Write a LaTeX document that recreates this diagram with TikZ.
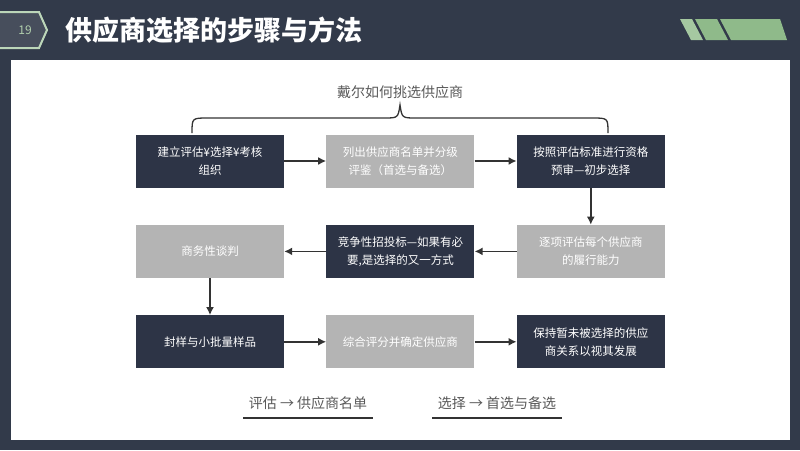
\documentclass[tikz,border=0pt]{standalone}
\usepackage{fontspec}
\setmainfont{Noto Sans CJK SC}
\usepackage{tikz}
\usetikzlibrary{positioning,arrows.meta,calc}

\definecolor{navy}{HTML}{323A4A}
\definecolor{boxdark}{HTML}{2D3446}
\definecolor{boxgrey}{HTML}{B4B4B4}
\definecolor{leaf}{HTML}{8FBA8A}
\definecolor{ink}{HTML}{333333}

\begin{document}
\begin{tikzpicture}[
  x=1pt, y=-1pt,
  node distance=37pt and 42pt,
  darkbox/.style={fill=boxdark, text=white, minimum width=148pt, minimum height=53pt, align=center, font=\fontsize{11.5}{18}\selectfont, inner sep=2pt},
  greybox/.style={darkbox, fill=boxgrey},
  arr/.style={-{Latex[length=8pt,width=8pt]}, line width=1.8pt, draw=ink},
  note/.style={font=\fontsize{14}{16}\selectfont, text=black!65}
]
\useasboundingbox (0,0) rectangle (800,450);
% slide background
\fill[navy] (0,0) rectangle (800,450);
\fill[white] (11,60) rectangle (790,440);

% header
\draw[leaf!60!white, line width=2pt, fill=navy!90!white] (-2,12) -- (39,12) -- (47,30) -- (39,48) -- (-2,48) -- cycle;
\node[text=leaf!70!white, font=\fontsize{12}{12}\selectfont] (num) at (25,30) {19};
\node[anchor=west, text=white, font=\fontsize{27}{27}\selectfont\bfseries] (title) at (62,30) {供应商选择的步骤与方法};
\fill[leaf!80!white] (680,19) -- (692,19) -- (703,40) -- (691,40) -- cycle;
\fill[leaf] (695,19) -- (717,19) -- (728,40) -- (706,40) -- cycle;
\fill[leaf] (720,19) -- (780,19) -- (787,40) -- (731,40) -- cycle;

% steps
\node[darkbox] (org) at (210,161) {建立评估¥选择¥考核\\组织};
\node[greybox, right=of org] (list) {列出供应商名单并分级\\评鉴（首选与备选）};
\node[darkbox, right=of list] (check) {按照评估标准进行资格\\预审—初步选择};
\node[greybox, below=of check] (ability) {逐项评估每个供应商\\的履行能力};
\node[darkbox, below=of list] (bid) {竞争性招投标—如果有必\\要,是选择的又一方式};
\node[greybox, below=of org] (talk) {商务性谈判};
\node[darkbox, below=of talk] (sample) {封样与小批量样品};
\node[greybox, right=of sample] (score) {综合评分并确定供应商};
\node[darkbox, right=of score] (keep) {保持暂未被选择的供应\\商关系以视其发展};

\draw[arr] (org) -- (list);
\draw[arr] (list) -- (check);
\draw[arr] (check) -- (ability);
\draw[arr] (ability) -- (bid);
\draw[arr] (bid) -- (talk);
\draw[arr] (talk) -- (sample);
\draw[arr] (sample) -- (score);
\draw[arr] (score) -- (keep);

% brace
\coordinate (bl) at (192,133);
\coordinate (tip) at (400,105);
\coordinate (br) at (608,133);
\draw[ink, line width=1.3pt] (bl) .. controls (192,118) .. (208,118) -- (384,118)
  .. controls (398,118) .. (tip) .. controls (402,118) .. (416,118) -- (592,118)
  .. controls (608,118) .. (br);
\node[note] (dell) at (400,92) {戴尔如何挑选供应商};

% notes
\node[note] (eval) at (308,403) {评估 → 供应商名单};
\node[note] (pick) at (497,403) {选择 → 首选与备选};
\draw[ink, line width=1.5pt] ([xshift=-65pt]eval.center |- 0,418) coordinate (e1) -- ([xshift=65pt]eval.center |- 0,418) coordinate (e2);
\draw[ink, line width=1.5pt] ([xshift=-65pt]pick.center |- 0,418) coordinate (p1) -- ([xshift=65pt]pick.center |- 0,418) coordinate (p2);
\end{tikzpicture}
\end{document}
